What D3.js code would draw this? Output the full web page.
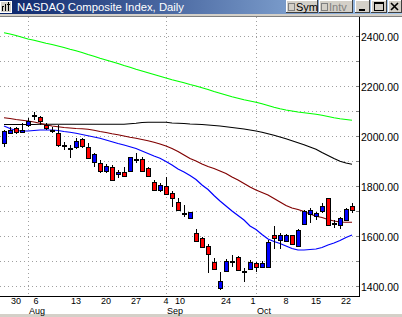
<!DOCTYPE html>
<html>
<head>
<meta charset="utf-8">
<script src="https://cdn.jsdelivr.net/npm/d3@7"></script>
<style>
  body { margin: 0; background: #fff; }
  svg { display: block; }
</style>
</head>
<body>
<svg id="chart" width="402" height="317"></svg>
<script>
// trading days shown (2001)
const dates = ['07-26','07-27','07-30','07-31','08-01','08-02','08-03','08-06','08-07','08-08',
  '08-09','08-10','08-13','08-14','08-15','08-16','08-17','08-20','08-21','08-22',
  '08-23','08-24','08-27','08-28','08-29','08-30','08-31','09-04','09-05','09-06',
  '09-07','09-10','09-17','09-18','09-19','09-20','09-21','09-24','09-25','09-26',
  '09-27','09-28','10-01','10-02','10-03','10-04','10-05','10-08','10-09','10-10',
  '10-11','10-12','10-15','10-16','10-17','10-18','10-19','10-22','10-23'];

const open = [1973, 2013, 2031, 2019, 2044, 2082, 2075, 2044, 2024, 2011, 1964, 1953, 1957, 1987, 1957, 1895, 1893, 1861, 1877, 1848,
  1857, 1857, 1908, 1909, 1871, 1815, 1784, 1800, 1773, 1735, 1691, 1671, 1611, 1591, 1560, 1495, 1393, 1460, 1501, 1515,
  1461, 1471, 1491, 1477, 1477, 1604, 1584, 1581, 1604, 1560, 1647, 1688, 1680, 1701, 1751, 1651, 1644, 1664, 1720];
const high = [2024, 2037, 2037, 2051, 2072, 2097, 2080, 2051, 2037, 2044, 1977, 1964, 1991, 1991, 1973, 1932, 1904, 1888, 1884, 1864,
  1877, 1917, 1931, 1915, 1877, 1824, 1811, 1837, 1781, 1751, 1724, 1696, 1627, 1597, 1568, 1511, 1457, 1507, 1524, 1520,
  1471, 1504, 1496, 1501, 1584, 1640, 1611, 1608, 1606, 1628, 1704, 1711, 1697, 1731, 1752, 1664, 1675, 1711, 1733];
const low = [1957, 2007, 2007, 2011, 2037, 2064, 2044, 2024, 2011, 1957, 1944, 1911, 1947, 1953, 1911, 1877, 1853, 1851, 1824, 1831,
  1837, 1857, 1891, 1857, 1835, 1781, 1777, 1764, 1715, 1700, 1677, 1667, 1577, 1551, 1451, 1467, 1384, 1457, 1477, 1461,
  1417, 1464, 1457, 1475, 1475, 1547, 1547, 1578, 1564, 1558, 1644, 1651, 1664, 1691, 1642, 1631, 1627, 1661, 1693];
const close = [2020, 2024, 2015, 2025, 2061, 2084, 2061, 2031, 2024, 1964, 1964, 1953, 1980, 1957, 1915, 1928, 1860, 1880, 1827, 1856,
  1840, 1915, 1908, 1861, 1837, 1784, 1803, 1767, 1755, 1704, 1691, 1695, 1580, 1555, 1527, 1469, 1421, 1501, 1501, 1464,
  1461, 1497, 1477, 1491, 1577, 1593, 1604, 1604, 1567, 1624, 1700, 1704, 1693, 1720, 1644, 1651, 1671, 1707, 1704];

// moving averages
const maGreen = [2413, 2408, 2402, 2395, 2388, 2383, 2377, 2371, 2366, 2360, 2354, 2347, 2341, 2334, 2326, 2319, 2311, 2304, 2297, 2290,
  2282, 2275, 2267, 2260, 2253, 2246, 2239, 2232, 2225, 2219, 2213, 2206, 2200, 2193, 2186, 2178, 2171, 2164, 2157, 2151,
  2145, 2140, 2135, 2129, 2122, 2115, 2109, 2104, 2100, 2096, 2093, 2090, 2087, 2083, 2078, 2073, 2069, 2066, 2063];
const maBlack = [2046, 2046, 2046, 2046, 2046, 2046, 2047, 2047, 2047, 2047, 2047, 2047, 2047, 2047, 2047, 2047, 2047, 2047, 2047, 2047,
  2047, 2049, 2051, 2054, 2055, 2055, 2055, 2055, 2052, 2051, 2050, 2048, 2047, 2046, 2044, 2042, 2040, 2037, 2034, 2031,
  2028, 2024, 2020, 2015, 2009, 2003, 1996, 1989, 1981, 1973, 1965, 1956, 1947, 1934, 1922, 1910, 1899, 1892, 1887];
const maRed = [2073, 2070, 2066, 2063, 2060, 2056, 2051, 2045, 2040, 2037, 2034, 2032, 2030, 2029, 2027, 2023, 2018, 2014, 2009, 2005,
  2000, 1995, 1991, 1986, 1981, 1975, 1968, 1960, 1950, 1938, 1924, 1910, 1900, 1888, 1878, 1870, 1860, 1850, 1836, 1824,
  1810, 1796, 1784, 1774, 1764, 1750, 1736, 1722, 1712, 1706, 1698, 1688, 1679, 1674, 1666, 1660, 1656, 1655, 1655];
const maBlue = [2040, 2030, 2022, 2020, 2020, 2022, 2024, 2024, 2024, 2022, 2018, 2015, 2011, 2006, 2001, 1996, 1991, 1984, 1977, 1970,
  1964, 1957, 1950, 1940, 1930, 1920, 1911, 1898, 1884, 1868, 1856, 1842, 1826, 1804, 1786, 1762, 1740, 1720, 1700, 1682,
  1664, 1640, 1626, 1606, 1588, 1578, 1570, 1560, 1550, 1544, 1544, 1546, 1548, 1554, 1564, 1572, 1582, 1594, 1604];

const gridPrices = [1400, 1500, 1600, 1700, 1800, 1900, 2000, 2100, 2200, 2300, 2400];
const labelPrices = [1400, 1600, 1800, 2000, 2200, 2400];
const dayTicks = ['07-30','08-06','08-13','08-20','08-27','09-04','09-10','09-24','10-01','10-08','10-15','10-22'];
const dayLabels = ['30','6','13','20','27','4','10','24','1','8','15','22'];
const monthTicks = ['08-01','09-04','10-01'];
const monthLabels = ['Aug','Sep','Oct'];

const svg = d3.select('#chart');
const W = 402, H = 317;
const plot = { left: 0, right: 359, top: 17, bottom: 296 };

const x = d3.scalePoint().domain(dates).range([4, 352]);
const y = d3.scaleLinear().domain([1400, 2400]).range([286, 36]);

// background
svg.append('rect').attr('width', W).attr('height', H).attr('fill', '#fff');
svg.append('rect').attr('y', 314).attr('width', W).attr('height', 3).attr('fill', '#d4d0c8');

// title bar
const defs = svg.append('defs');
const grad = defs.append('linearGradient').attr('id', 'tb').attr('x1', 0).attr('x2', 1).attr('y1', 0).attr('y2', 0);
grad.append('stop').attr('offset', '0%').attr('stop-color', '#0a246a');
grad.append('stop').attr('offset', '100%').attr('stop-color', '#a6caf0');
svg.append('rect').attr('width', W).attr('height', 14).attr('fill', 'url(#tb)');
svg.append('rect').attr('y', 14).attr('width', W).attr('height', 2).attr('fill', '#d4d0c8');
svg.append('line').attr('x1', 0).attr('x2', W).attr('y1', 16.5).attr('y2', 16.5).attr('stroke', '#808080');

// window icon
const icon = svg.append('g');
icon.append('rect').attr('x', 0.5).attr('y', 1.5).attr('width', 11).attr('height', 11).attr('fill', '#d4d0c8').attr('stroke', '#fff');
icon.append('path').attr('d', 'M2.5,11V7M5.5,11V4M8.5,11V2M2,6.5h2M7,4.5h3').attr('stroke', '#000').attr('fill', 'none')
  .attr('shape-rendering', 'crispEdges');

svg.append('text').attr('x', 17).attr('y', 10.5)
  .attr('fill', '#fff').attr('font-family', 'Liberation Sans, Arial, sans-serif').attr('font-size', '11.3px')
  .text('NASDAQ Composite Index, Daily');

// buttons
function button(x0, w, label, disabled) {
  const g = svg.append('g').attr('shape-rendering', 'crispEdges');
  g.append('rect').attr('x', x0).attr('y', 0).attr('width', w).attr('height', 13).attr('fill', '#d4d0c8');
  g.append('path').attr('d', `M${x0 + 0.5},13V0.5H${x0 + w}`).attr('stroke', '#fff').attr('fill', 'none');
  g.append('path').attr('d', `M${x0},12.5H${x0 + w - 0.5}V0`).attr('stroke', '#404040').attr('fill', 'none');
  if (label) {
    g.append('rect').attr('x', x0 + 2.5).attr('y', 3.5).attr('width', 6).attr('height', 7)
      .attr('fill', '#d4d0c8').attr('stroke', '#808080');
    g.append('text').attr('x', x0 + 10).attr('y', 10.5).attr('font-family', 'Liberation Sans, Arial, sans-serif')
      .attr('font-size', '11px').attr('fill', disabled ? '#808080' : '#000').text(label);
  }
  return g;
}
button(286, 32, 'Sym', false);
button(319, 34, 'Intv', true);
const bMin = button(355, 15);
bMin.append('rect').attr('x', 359).attr('y', 9).attr('width', 6).attr('height', 2).attr('fill', '#000');
const bMax = button(371, 16);
bMax.append('rect').attr('x', 374.5).attr('y', 2.5).attr('width', 9).attr('height', 8).attr('fill', 'none').attr('stroke', '#000');
bMax.append('line').attr('x1', 374).attr('x2', 384).attr('y1', 3.5).attr('y2', 3.5).attr('stroke', '#000');
const bClose = button(388, 14);
bClose.append('path').attr('d', 'M391,3L398,10M398,3L391,10').attr('stroke', '#000').attr('stroke-width', 1.6)
  .attr('shape-rendering', 'auto');

// grid
const grid = svg.append('g').attr('shape-rendering', 'crispEdges');
grid.selectAll('line.h').data(gridPrices).enter().append('line')
  .attr('x1', plot.left).attr('x2', plot.right)
  .attr('y1', d => Math.round(y(d)) + 0.5).attr('y2', d => Math.round(y(d)) + 0.5)
  .attr('stroke', '#a0a0a0').attr('stroke-dasharray', '1,3');
grid.selectAll('line.v').data(monthTicks).enter().append('line')
  .attr('x1', d => Math.round(x(d)) + 0.5).attr('x2', d => Math.round(x(d)) + 0.5)
  .attr('y1', plot.top).attr('y2', plot.bottom)
  .attr('stroke', '#a0a0a0').attr('stroke-dasharray', '1,3');

const clip = defs.append('clipPath').attr('id', 'plotclip');
clip.append('rect').attr('x', plot.left).attr('y', plot.top)
  .attr('width', plot.right - plot.left).attr('height', plot.bottom - plot.top);

const body = svg.append('g').attr('clip-path', 'url(#plotclip)');

// moving averages
const series = [
  { values: maGreen, color: '#00ff00' },
  { values: maBlack, color: '#000000' },
  { values: maRed, color: '#800000' },
  { values: maBlue, color: '#0000ff' }
];
const line = d3.line().x((d, i) => x(dates[i])).y(d => y(d));
series.forEach(s => {
  body.append('path').datum(s.values).attr('d', line)
    .attr('fill', 'none').attr('stroke', s.color).attr('stroke-width', 1.2);
});

// candles
const candles = dates.map((d, i) => ({ date: d, o: open[i], h: high[i], l: low[i], c: close[i] }));
const cg = body.append('g').attr('shape-rendering', 'crispEdges');
cg.selectAll('line.wick').data(candles).enter().append('line')
  .attr('x1', d => Math.round(x(d.date)) + 0.5).attr('x2', d => Math.round(x(d.date)) + 0.5)
  .attr('y1', d => Math.round(y(d.h))).attr('y2', d => Math.round(y(d.l)))
  .attr('stroke', '#000');
cg.selectAll('rect.body').data(candles).enter().append('rect')
  .attr('x', d => Math.round(x(d.date)) - 1.5)
  .attr('y', d => Math.round(y(Math.max(d.o, d.c))) + 0.5)
  .attr('width', 4)
  .attr('height', d => Math.max(1, Math.round(Math.abs(y(d.o) - y(d.c)))))
  .attr('fill', d => d.c > d.o ? '#0000ff' : (d.c < d.o ? '#ff0000' : '#000'))
  .attr('stroke', '#000');

// axes
const axes = svg.append('g').attr('shape-rendering', 'crispEdges');
axes.append('line').attr('x1', plot.right + 0.5).attr('x2', plot.right + 0.5)
  .attr('y1', plot.top).attr('y2', plot.bottom + 1).attr('stroke', '#000');
axes.append('line').attr('x1', 0).attr('x2', plot.right + 1)
  .attr('y1', plot.bottom + 0.5).attr('y2', plot.bottom + 0.5).attr('stroke', '#000');
axes.selectAll('line.tick').data(gridPrices).enter().append('line')
  .attr('x1', plot.right - 3).attr('x2', plot.right)
  .attr('y1', d => Math.round(y(d)) + 0.5).attr('y2', d => Math.round(y(d)) + 0.5)
  .attr('stroke', '#808080');

const labelFont = "'Liberation Sans Narrow', 'Arial Narrow', 'Liberation Sans', sans-serif";
svg.selectAll('text.price').data(labelPrices).enter().append('text')
  .attr('x', plot.right + 2).attr('y', d => Math.round(y(d)) + 4.5)
  .attr('font-family', labelFont).attr('font-size', '10.5px').attr('fill', '#000')
  .text(d => d3.format('.2f')(d));

const labelShift = { '08-06': -10, '09-10': -10, '10-01': -3 };
svg.selectAll('text.day').data(dayTicks).enter().append('text')
  .attr('x', d => x(d) + (labelShift[d] || 0)).attr('y', 303.8)
  .attr('text-anchor', 'middle')
  .attr('font-family', labelFont).attr('font-size', '9px').attr('fill', '#000')
  .text((d, i) => dayLabels[i]);
svg.selectAll('text.month').data(monthTicks).enter().append('text')
  .attr('x', d => Math.round(x(d)) + 1).attr('y', 314.2)
  .attr('font-family', labelFont).attr('font-size', '9px').attr('fill', '#000')
  .text((d, i) => monthLabels[i]);
</script>
</body>
</html>
